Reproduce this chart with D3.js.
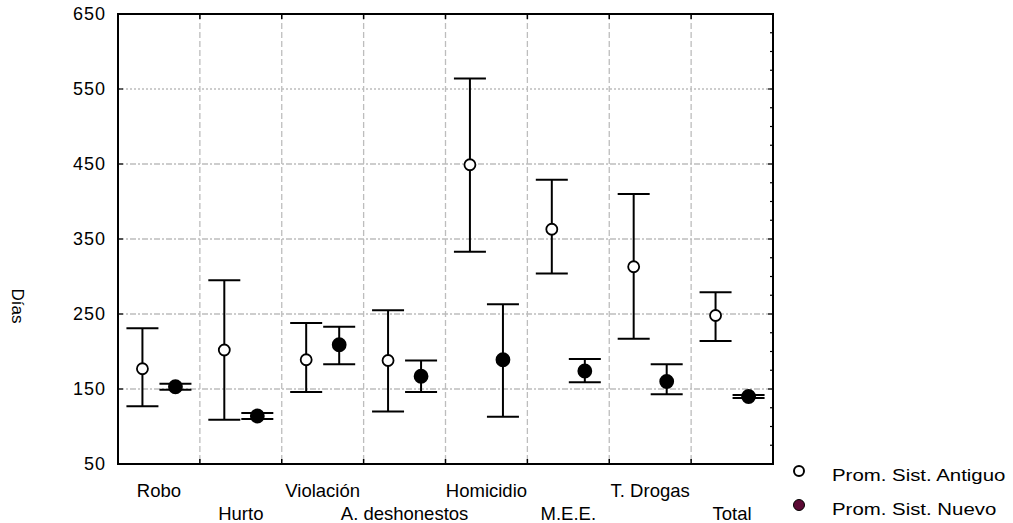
<!DOCTYPE html>
<html>
<head>
<meta charset="utf-8">
<script src="https://cdn.jsdelivr.net/npm/d3@7"></script>
<style>
  body { margin: 0; background: #fff; }
  text { font-family: "Liberation Sans", Arial, sans-serif; fill: #000; }
</style>
</head>
<body>
<div id="chart"></div>
<script>
var categories = ['Robo', 'Hurto', 'Violación', 'A. deshonestos', 'Homicidio', 'M.E.E.', 'T. Drogas', 'Total']
var seriesNames = ['Prom. Sist. Antiguo', 'Prom. Sist. Nuevo']

var antiguoMean = [177, 202, 189, 188, 449, 363, 313, 248]
var antiguoHigh = [231, 295, 238, 255, 564, 429, 410, 279]
var antiguoLow  = [127, 109, 146, 120, 333, 304, 217, 214]

var nuevoMean = [153, 114, 209, 167, 189, 174, 160, 140]
var nuevoHigh = [157, 118, 233, 188, 263, 190, 183, 142]
var nuevoLow  = [149, 110, 183, 146, 113, 159, 143, 138]

var yTicks = [50, 150, 250, 350, 450, 550, 650]

var width = 1013, height = 523
var margin = { top: 14, right: 240, bottom: 59, left: 118 }
var innerW = width - margin.left - margin.right
var innerH = height - margin.top - margin.bottom

var svg = d3.select('#chart').append('svg')
            .attr('width', width)
            .attr('height', height)
var g = svg.append('g')
           .attr('transform', 'translate(' + margin.left + ',' + margin.top + ')')

var x = d3.scaleBand().domain(categories).range([0, innerW]).paddingInner(0).paddingOuter(0)
var xs = d3.scalePoint().domain(seriesNames).range([0, x.bandwidth()]).padding(0.74)
var y = d3.scaleLinear().domain([50, 650]).range([innerH, 0])

var gridColor = '#bdbdbd'

// horizontal grid
g.selectAll('.hgrid')
  .data(yTicks.filter(function(d) { return d > 50 && d < 650 }))
  .enter().append('line')
    .attr('x1', 0).attr('x2', innerW)
    .attr('y1', function(d) { return y(d) }).attr('y2', function(d) { return y(d) })
    .attr('stroke', gridColor).attr('stroke-width', 1.3)
    .attr('stroke-dasharray', function(d) { return d == 550 ? '2,2' : '6,2,2,2' })

// vertical grid at category boundaries
g.selectAll('.vgrid')
  .data(categories.slice(1))
  .enter().append('line')
    .attr('x1', function(d) { return x(d) }).attr('x2', function(d) { return x(d) })
    .attr('y1', 0).attr('y2', innerH)
    .attr('stroke', gridColor).attr('stroke-width', 1.3)
    .attr('stroke-dasharray', '6,3')

// axes ticks (inward) on all sides
var boundaries = categories.slice(1).map(function(d) { return x(d) })
g.selectAll('.tickB').data(boundaries).enter().append('line')
  .attr('x1', function(d) { return d }).attr('x2', function(d) { return d })
  .attr('y1', innerH).attr('y2', innerH - 5).attr('stroke', '#000').attr('stroke-width', 1.5)
g.selectAll('.tickT').data(boundaries).enter().append('line')
  .attr('x1', function(d) { return d }).attr('x2', function(d) { return d })
  .attr('y1', 0).attr('y2', 5).attr('stroke', '#000').attr('stroke-width', 1.5)

var minor = d3.range(75, 650, 25)
g.selectAll('.tickR').data(minor).enter().append('line')
  .attr('x1', innerW).attr('x2', function(d) { return innerW - ((d - 50) % 100 == 0 ? 5 : 3) })
  .attr('y1', function(d) { return y(d) }).attr('y2', function(d) { return y(d) })
  .attr('stroke', '#000').attr('stroke-width', 1.2)
g.selectAll('.tickL').data(yTicks).enter().append('line')
  .attr('x1', 0).attr('x2', 5)
  .attr('y1', function(d) { return y(d) }).attr('y2', function(d) { return y(d) })
  .attr('stroke', '#000').attr('stroke-width', 1.2)

// frame
g.append('rect')
  .attr('width', innerW).attr('height', innerH)
  .attr('fill', 'none').attr('stroke', '#000').attr('stroke-width', 2)

// y tick labels
g.selectAll('.ylab').data(yTicks).enter().append('text')
  .attr('x', -12).attr('y', function(d) { return y(d) })
  .attr('dy', '0.36em').attr('text-anchor', 'end')
  .style('font-size', '18px').style('letter-spacing', '1px')
  .text(function(d) { return d })

// x labels, alternating rows
g.selectAll('.xlab').data(categories).enter().append('text')
  .attr('x', function(d) { return x(d) + x.bandwidth() / 2 })
  .attr('y', function(d, i) { return innerH + (i % 2 == 0 ? 33 : 56) })
  .attr('text-anchor', 'middle')
  .style('font-size', '18.5px')
  .text(function(d) { return d })

// y title
svg.append('text')
  .attr('transform', 'translate(12,306) rotate(90)')
  .attr('text-anchor', 'middle')
  .style('font-size', '17px')
  .text('Días')

// error bars
var series = [
  { name: seriesNames[0], mean: antiguoMean, hi: antiguoHigh, lo: antiguoLow, fill: '#fff', r: 5.5 },
  { name: seriesNames[1], mean: nuevoMean, hi: nuevoHigh, lo: nuevoLow, fill: '#000', r: 6.5 }
]
var capW = 16

series.forEach(function(s) {
  var rows = categories.map(function(c, i) {
    return { cat: c, mean: s.mean[i], hi: s.hi[i], lo: s.lo[i] }
  })
  var sg = g.append('g')
  var cx = function(d) { return x(d.cat) + xs(s.name) }
  sg.selectAll('.stem').data(rows).enter().append('line')
    .attr('x1', cx).attr('x2', cx)
    .attr('y1', function(d) { return y(d.hi) }).attr('y2', function(d) { return y(d.lo) })
    .attr('stroke', '#000').attr('stroke-width', 2)
  sg.selectAll('.capHi').data(rows).enter().append('line')
    .attr('x1', function(d) { return cx(d) - capW }).attr('x2', function(d) { return cx(d) + capW })
    .attr('y1', function(d) { return y(d.hi) }).attr('y2', function(d) { return y(d.hi) })
    .attr('stroke', '#000').attr('stroke-width', 2)
  sg.selectAll('.capLo').data(rows).enter().append('line')
    .attr('x1', function(d) { return cx(d) - capW }).attr('x2', function(d) { return cx(d) + capW })
    .attr('y1', function(d) { return y(d.lo) }).attr('y2', function(d) { return y(d.lo) })
    .attr('stroke', '#000').attr('stroke-width', 2)
  sg.selectAll('circle').data(rows).enter().append('circle')
    .attr('cx', cx).attr('cy', function(d) { return y(d.mean) })
    .attr('r', s.r)
    .attr('fill', s.fill).attr('stroke', '#000').attr('stroke-width', 1.8)
})

// legend
var legend = svg.append('g').attr('transform', 'translate(799,471)')
legend.append('circle').attr('cx', 0).attr('cy', 0).attr('r', 5)
  .attr('fill', '#fff').attr('stroke', '#000').attr('stroke-width', 2)
legend.append('text').attr('transform', 'translate(33,10) scale(1.2,1)')
  .style('font-size', '17px').text(seriesNames[0])
legend.append('circle').attr('cx', 0).attr('cy', 34).attr('r', 5.5)
  .attr('fill', '#5c0a35').attr('stroke', '#000').attr('stroke-width', 1)
legend.append('text').attr('transform', 'translate(33,44) scale(1.2,1)')
  .style('font-size', '17px').text(seriesNames[1])
</script>
</body>
</html>
